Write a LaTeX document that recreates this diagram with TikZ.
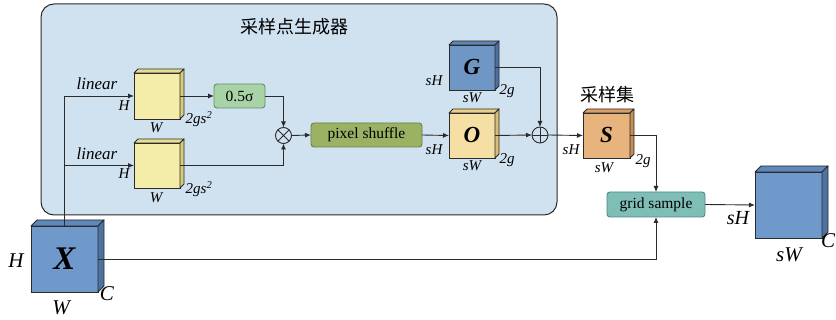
\documentclass[tikz,border=0pt]{standalone}
\usepackage{fontspec}
\setmainfont{Liberation Serif}
\newfontfamily\tnr{Liberation Serif}
\newfontfamily\cjk{Noto Sans CJK SC}
\usetikzlibrary{arrows.meta,calc}
\definecolor{linec}{HTML}{2B2B2B}
\definecolor{panelc}{HTML}{D0E2F0}
\definecolor{yelF}{HTML}{F3EDA9}
\definecolor{yelT}{HTML}{E6DD90}
\definecolor{yelS}{HTML}{D6CC7E}
\definecolor{bluF}{HTML}{7099CB}
\definecolor{bluT}{HTML}{5F87B9}
\definecolor{bluS}{HTML}{4E72A2}
\definecolor{gbF}{HTML}{6F97C6}
\definecolor{gbT}{HTML}{5E85B5}
\definecolor{gbS}{HTML}{4D719F}
\definecolor{orF}{HTML}{F5DFA5}
\definecolor{orT}{HTML}{EBCF88}
\definecolor{orS}{HTML}{D9BD76}
\definecolor{saF}{HTML}{E8B47E}
\definecolor{saT}{HTML}{D9A066}
\definecolor{saS}{HTML}{C68D55}
\definecolor{sigc}{HTML}{A9D3A6}
\definecolor{sigb}{HTML}{5F8F6A}
\definecolor{psc}{HTML}{9BB264}
\definecolor{psb}{HTML}{6B7F45}
\definecolor{gsc}{HTML}{7FBDB7}
\definecolor{gsb}{HTML}{4D8886}
\tikzset{
  cubefront/.style={draw=linec, line width=0.9pt, inner sep=0pt, outer sep=0pt},
  cubeedge/.style={draw=linec, line width=0.9pt, line join=round},
  arr/.style={line width=0.9pt, draw=linec, -{Latex[length=6pt,width=5pt]}},
  ln/.style={line width=0.9pt, draw=linec},
  lbl/.style={inner sep=0pt, font=\tnr\fontsize{15}{17}\selectfont\itshape},
  lblbig/.style={inner sep=0pt, font=\tnr\fontsize{21}{24}\selectfont\itshape},
  opbox/.style={rounded corners=3pt, line width=0.9pt, inner sep=0pt, outer sep=0pt, font=\tnr\fontsize{15.5}{18}\selectfont},
  opcirc/.style={circle, draw=linec, line width=0.9pt, minimum size=16pt, inner sep=0pt, outer sep=0pt},
  cubetxt/.style={font=\tnr\fontsize{23}{26}\selectfont\bfseries\itshape},
}
\newcommand\mkcube[8]{%
  \node[cubefront, fill=#7F, minimum width=#4pt, minimum height=#5pt] (#1) at (#2,#3) {#8};
  \draw[cubeedge, fill=#7T] (#1.north west) -- ++(#6pt,#6pt) -- ([shift={(#6pt,#6pt)}]#1.north east) -- (#1.north east) -- cycle;
  \draw[cubeedge, fill=#7S] (#1.north east) -- ++(#6pt,#6pt) -- ([shift={(#6pt,#6pt)}]#1.south east) -- (#1.south east) -- cycle;
}
\begin{document}
\begin{tikzpicture}[x=1pt,y=-1pt]
\useasboundingbox (0,0) rectangle (836,320);
% panel
\node[draw=linec, line width=1pt, fill=panelc, rounded corners=13pt, minimum width=516pt, minimum height=211pt, inner sep=0pt, outer sep=0pt] (panel) at (299,109.5) {};
\node[inner sep=0pt, font=\cjk\fontsize{18}{20}\selectfont] (title) at (294,27) {采样点生成器};
% cubes
\mkcube{Y1}{157}{96}{46}{46}{4}{yel}{}
\mkcube{Y2}{157}{165.5}{46}{45}{4}{yel}{}
\mkcube{G}{472}{67.5}{46}{45}{4}{gb}{\tnr\fontsize{23}{26}\selectfont\bfseries\itshape G}
\mkcube{O}{472}{135.5}{46}{45}{4}{or}{\tnr\fontsize{23}{26}\selectfont\bfseries\itshape O}
\mkcube{S}{606.5}{135.5}{47}{45}{4}{sa}{\tnr\fontsize{23}{26}\selectfont\bfseries\itshape S}
\mkcube{X}{64.5}{259}{67}{66}{6}{blu}{\tnr\fontsize{33}{36}\selectfont\bfseries\itshape X}
\mkcube{out}{788.5}{205}{67}{66}{6}{blu}{}
% operation boxes
\node[opbox, draw=sigb, fill=sigc, minimum width=51pt, minimum height=24pt] (sig) at (239.5,96) {0.5σ};
\node[opbox, draw=psb, fill=psc, minimum width=111pt, minimum height=24pt] (ps) at (366.5,135) {pixel shuffle};
\node[opbox, draw=gsb, fill=gsc, minimum width=98pt, minimum height=25pt] (gs) at (656,204.5) {grid sample};
\node[opcirc] (mul) at (283.5,135.5) {};
\draw[ln] (mul.45) -- (mul.225) (mul.135) -- (mul.315);
\node[opcirc] (add) at (540,135) {};
\draw[ln] (add.north) -- (add.south) (add.east) -- (add.west);
% labels
\node[lbl, font=\tnr\fontsize{17}{19}\selectfont\itshape] (lin1) at (97,84) {linear};
\node[lbl, font=\tnr\fontsize{17}{19}\selectfont\itshape] (lin2) at (97,154) {linear};
\node[lbl] (h1) at (124,106) {H};
\node[lbl] (h2) at (124,174) {H};
\node[lbl] (w1) at (156,128) {W};
\node[lbl] (w2) at (156,198) {W};
\node[lbl] (d1) at (199,119) {2gs\textsuperscript{2}};
\node[lbl] (d2) at (199,189) {2gs\textsuperscript{2}};
\node[lbl] (gh) at (434,81) {sH};
\node[lbl] (gw) at (472,98) {sW};
\node[lbl] (gd) at (507,91) {2g};
\node[lbl] (oh) at (434,150) {sH};
\node[lbl] (ow) at (472,166) {sW};
\node[lbl] (od) at (507,160) {2g};
\node[inner sep=0pt, font=\cjk\fontsize{18}{20}\selectfont] (stitle) at (607,95) {采样集};
\node[lbl] (sh) at (571,150) {sH};
\node[lbl] (sw) at (604,168) {sW};
\node[lbl] (sd) at (643,161) {2g};
\node[lblbig] (xh) at (16,261) {H};
\node[lblbig] (xw) at (61,308) {W};
\node[lblbig] (xc) at (107,294) {C};
\node[lblbig, font=\tnr\fontsize{20}{22}\selectfont\itshape] (outh) at (738,218) {sH};
\node[lblbig] (outw) at (789,255) {sW};
\node[lblbig] (outc) at (828,241) {C};
% connectors
\draw[arr] (X.north) |- (Y1.west);
\draw[arr] (X.north |- Y2.west) -- (Y2.west);
\draw[arr] (Y1.east) -- (sig.west);
\draw[arr] (sig.east) -| (mul.north);
\draw[arr] (Y2.east) -| (mul.south);
\draw[arr] (mul.east) -- (ps.west);
\draw[arr] (ps.east) -- (O.west);
\draw[arr] (O.east) -- (add.west);
\draw[arr] (G.east) -| (add.north);
\draw[arr] (add.east) -- (S.west);
\draw[arr] (S.east) -| (gs.north);
\draw[arr] (X.east) -| (gs.south);
\draw[arr] (gs.east) -- (out.west);
\end{tikzpicture}
\end{document}
